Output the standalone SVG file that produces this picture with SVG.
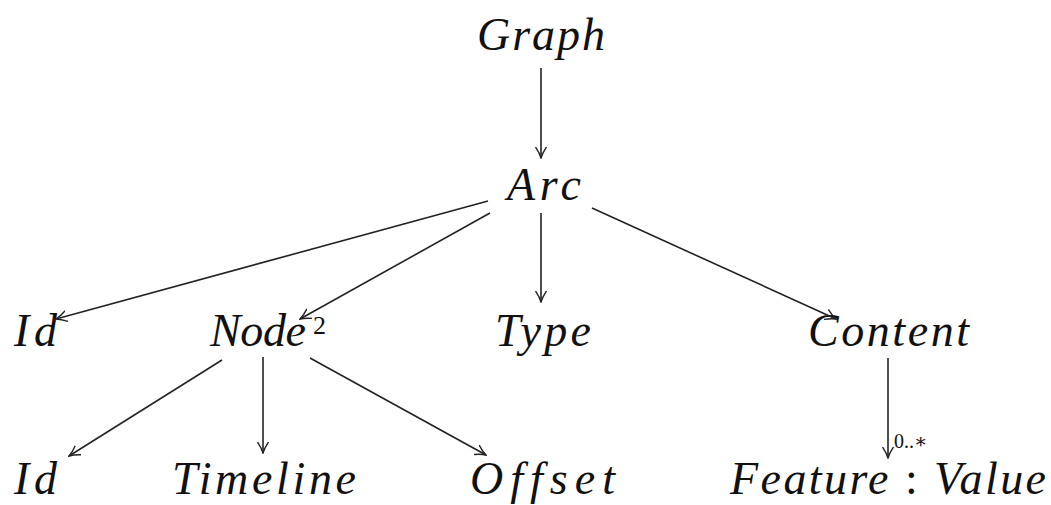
<svg xmlns="http://www.w3.org/2000/svg" width="1051" height="505" viewBox="0 0 1051 505">
<style>
.t{font-family:"Liberation Serif","DejaVu Serif",serif;font-style:italic;font-size:46px;fill:#111}
.u{font-family:"Liberation Serif","DejaVu Serif",serif;font-style:normal;fill:#111}
.c line{stroke:#222;stroke-width:1.6;marker-end:url(#ah)}
</style>
<defs>
<marker id="ah" viewBox="0 0 12 12" refX="11" refY="6" markerWidth="12" markerHeight="12" markerUnits="userSpaceOnUse" orient="auto">
<path d="M0,0.5 Q6,4.5 11,6 Q6,7.5 0,11.5" fill="none" stroke="#222" stroke-width="1.4"/>
</marker>
</defs>
<rect width="1051" height="505" fill="#fff"/>
<g id="graph"><text class="t" x="477" y="50" textLength="128">Graph</text></g>
<g id="arc"><text class="t" x="507" y="200" textLength="74">Arc</text></g>
<g id="id1"><text class="t" x="14" y="346" textLength="43">Id</text></g>
<g id="node"><text class="t" x="210" y="346" textLength="96">Node</text><text class="u" x="313" y="334" font-size="26">2</text></g>
<g id="type"><text class="t" x="495" y="346" textLength="96">Type</text></g>
<g id="content"><text class="t" x="808" y="346" textLength="161">Content</text></g>
<g id="id2"><text class="t" x="14" y="494" textLength="43">Id</text></g>
<g id="timeline"><text class="t" x="172" y="494" textLength="184">Timeline</text></g>
<g id="offset"><text class="t" x="470" y="494" textLength="145">Offset</text></g>
<g id="featurevalue"><text class="t" x="730" y="494" textLength="316">Feature<tspan class="u"> : </tspan>Value</text></g>
<g id="connectors" class="c">
<line x1="541" y1="68" x2="541" y2="158"/>
<line x1="488" y1="201" x2="56" y2="319"/>
<line x1="490" y1="213" x2="300" y2="319"/>
<line x1="541" y1="213" x2="541" y2="302"/>
<line x1="592" y1="208" x2="836" y2="319"/>
<line x1="222" y1="360" x2="69" y2="456"/>
<line x1="263" y1="357" x2="263" y2="453"/>
<line x1="310" y1="358" x2="486" y2="455"/>
<line x1="888" y1="358" x2="888" y2="458"/>
<text class="u" x="894" y="448" font-size="20">0..∗</text>
</g>
</svg>
